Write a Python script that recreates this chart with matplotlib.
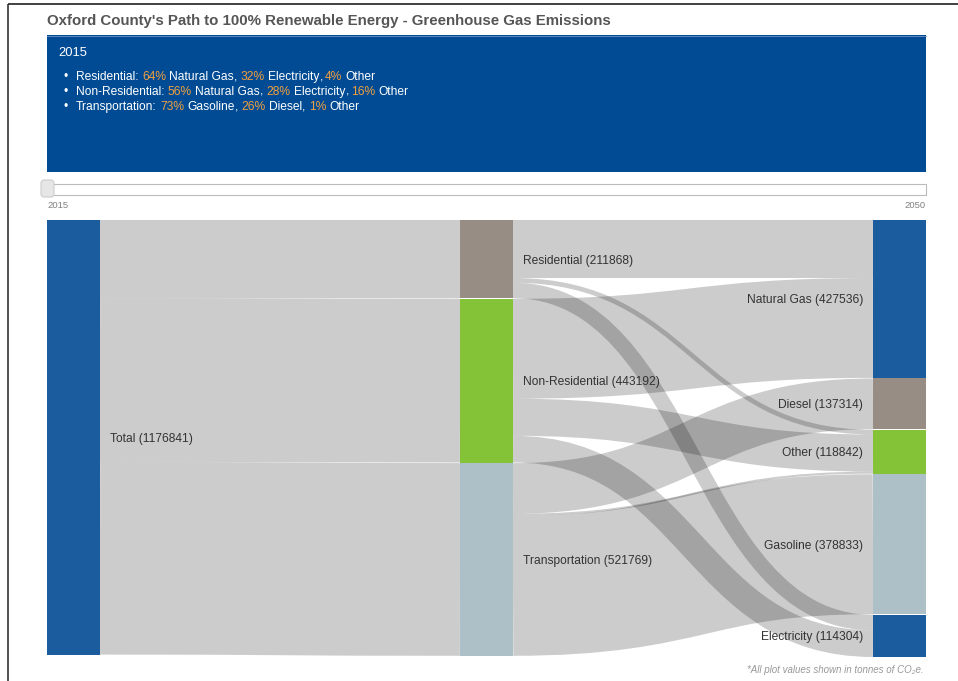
import matplotlib
matplotlib.use("Agg")
import matplotlib.pyplot as plt
from matplotlib.path import Path
from matplotlib.patches import PathPatch, Rectangle, FancyBboxPatch

plt.rcParams["font.family"] = ["Liberation Sans", "DejaVu Sans"]

# ---- data (tonnes CO2e, 2015) ----
NODES = ["Total", "Residential", "Non-Residential", "Transportation",
         "Natural Gas", "Diesel", "Other", "Gasoline", "Electricity"]
NODE_VALUES = [1176841, 211868, 443192, 521769,
               427536, 137314, 118842, 378833, 114304]
NODE_COLUMN = [0, 1, 1, 1, 2, 2, 2, 2, 2]
NODE_COLORS = ["#1b5c9e", "#978d85", "#84c237", "#adc0c8",
               "#1b5c9e", "#978d85", "#84c237", "#adc0c8", "#1b5c9e"]

LINK_SOURCE = [0, 0, 0, 1, 1, 1, 2, 2, 2, 3, 3, 3]
LINK_TARGET = [1, 2, 3, 4, 6, 8, 4, 6, 8, 5, 6, 7]
LINK_VALUES = [211868, 443192, 521769,
               157100, 12760, 42000,
               270440, 100450, 72300,
               137314, 5630, 378833]

TITLE = "Oxford County's Path to 100% Renewable Energy - Greenhouse Gas Emissions"
YEAR = "2015"
SLIDER_YEARS = ["2015", "2050"]
SECTORS = ["Residential", "Non-Residential", "Transportation"]
SHARES = [["64%", "32%", "4%"], ["56%", "28%", "16%"], ["73%", "26%", "1%"]]
FUELS = [["Natural Gas", "Electricity", "Other"],
         ["Natural Gas", "Electricity", "Other"],
         ["Gasoline", "Diesel", "Other"]]
NOTE = "*All plot values shown in tonnes of CO\u2082e."

# ---- layout (pixels) ----
W, H, DPI = 958, 681, 100
LEFT, RIGHT = 47, 926
SK_TOP, SK_H = 220, 437
NODE_W = 53
PAD = 0.6
ORANGE = "#f0a040"


def px(v):
    return v * 72 / DPI


fig = plt.figure(figsize=(W / DPI, H / DPI), dpi=DPI)
ax = fig.add_axes([0, 0, 1, 1])
ax.set_xlim(0, W)
ax.set_ylim(H, 0)
ax.axis("off")
renderer = fig.canvas.get_renderer()


def text_width(s, size):
    # width of s including trailing spaces (measured against a marker glyph)
    t1 = ax.text(0, 0, s + "|", fontsize=size)
    t2 = ax.text(0, 0, "|", fontsize=size)
    w = t1.get_window_extent(renderer).width - t2.get_window_extent(renderer).width
    t1.remove()
    t2.remove()
    return w


# page frame
ax.plot([8, 8], [4, H], color="#444444", lw=1.3, solid_capstyle="butt")
ax.plot([8, W], [4, 4], color="#333333", lw=1.3, solid_capstyle="butt")

ax.text(LEFT, 20, TITLE, fontsize=px(15), fontweight="bold", color="#555555",
        va="center_baseline", ha="left")

# summary box
ax.add_patch(Rectangle((LEFT, 35), RIGHT - LEFT, 137, facecolor="#004b93",
                       edgecolor="none"))
ax.plot([LEFT, RIGHT], [35.5, 35.5], color="#6f95c4", lw=0.6)
ax.text(58, 52, YEAR, fontsize=px(13), color="white", va="center_baseline")
for k, sector in enumerate(SECTORS):
    y = 80 + k * 15
    ax.text(64, y, "\u2022", fontsize=px(12), color="white", va="baseline")
    segs = [(sector + ":", "white")]
    for j in range(3):
        segs.append((" " + SHARES[k][j], ORANGE))
        segs.append((" " + FUELS[k][j], "white"))
        if j < 2:
            segs.append((",", "white"))
    prefix = ""
    for s, col in segs:
        lead = len(s) - len(s.lstrip(" "))
        x = 76 + text_width(prefix + s[:lead], px(12))
        ax.text(x, y, s.lstrip(" "), fontsize=px(12), color=col, va="baseline")
        prefix += s

# year slider
ax.add_patch(Rectangle((LEFT, 184), RIGHT - LEFT, 11, facecolor="white",
                       edgecolor="#bbbbbb", lw=0.8))
ax.add_patch(FancyBboxPatch((41, 180), 13, 17, boxstyle="round,pad=0,rounding_size=3",
                            facecolor="#e6e6e6", edgecolor="#cccccc", lw=0.8))
ax.text(LEFT, 205, SLIDER_YEARS[0], fontsize=px(9.5), color="#808080",
        va="center_baseline", ha="left")
ax.text(RIGHT, 205, SLIDER_YEARS[1], fontsize=px(9.5), color="#808080",
        va="center_baseline", ha="right")

# ---- sankey layout ----
ncol = max(NODE_COLUMN) + 1
col_x = [LEFT + c * (RIGHT - NODE_W - LEFT) / (ncol - 1) for c in range(ncol)]
ky = min((SK_H - (NODE_COLUMN.count(c) - 1) * PAD)
         / sum(v for v, cc in zip(NODE_VALUES, NODE_COLUMN) if cc == c)
         for c in range(ncol))

node_x, node_y, node_h = [], [], []
col_fill = [SK_TOP] * ncol
for i, v in enumerate(NODE_VALUES):
    c = NODE_COLUMN[i]
    node_x.append(col_x[c])
    node_y.append(col_fill[c])
    node_h.append(v * ky)
    col_fill[c] += v * ky + PAD

sy = [0] * len(LINK_VALUES)
ty = [0] * len(LINK_VALUES)
for n in range(len(NODES)):
    out = sorted([i for i, s in enumerate(LINK_SOURCE) if s == n],
                 key=lambda i: node_y[LINK_TARGET[i]])
    acc = 0
    for i in out:
        sy[i] = acc
        acc += LINK_VALUES[i] * ky
    inc = sorted([i for i, t in enumerate(LINK_TARGET) if t == n],
                 key=lambda i: node_y[LINK_SOURCE[i]])
    acc = 0
    for i in inc:
        ty[i] = acc
        acc += LINK_VALUES[i] * ky

for i, val in enumerate(LINK_VALUES):
    s, t = LINK_SOURCE[i], LINK_TARGET[i]
    dy = val * ky
    x0 = node_x[s] + NODE_W
    x1 = node_x[t]
    xm = (x0 + x1) / 2
    y0 = node_y[s] + sy[i] + dy / 2
    y1 = node_y[t] + ty[i] + dy / 2
    path = Path([(x0, y0), (xm, y0), (xm, y1), (x1, y1)],
                [Path.MOVETO, Path.CURVE4, Path.CURVE4, Path.CURVE4])
    ax.add_patch(PathPatch(path, facecolor="none", edgecolor="black", alpha=0.2,
                           lw=px(dy), capstyle="butt", zorder=2))

for i, name in enumerate(NODES):
    ax.add_patch(Rectangle((node_x[i], node_y[i]), NODE_W, node_h[i],
                           facecolor=NODE_COLORS[i], edgecolor="none", zorder=3))
    yc = node_y[i] + node_h[i] / 2
    label = f"{name} ({NODE_VALUES[i]})"
    if NODE_COLUMN[i] == ncol - 1:
        ax.text(node_x[i] - 10, yc, label, ha="right", va="center_baseline",
                fontsize=px(12), color="#333333", zorder=4)
    else:
        ax.text(node_x[i] + NODE_W + 10, yc, label, ha="left", va="center_baseline",
                fontsize=px(12), color="#333333", zorder=4)

ax.text(RIGHT - 2, 669, NOTE, fontsize=px(9.8), style="italic", color="#999999",
        ha="right", va="center_baseline")

fig.savefig("out.png", dpi=DPI)
